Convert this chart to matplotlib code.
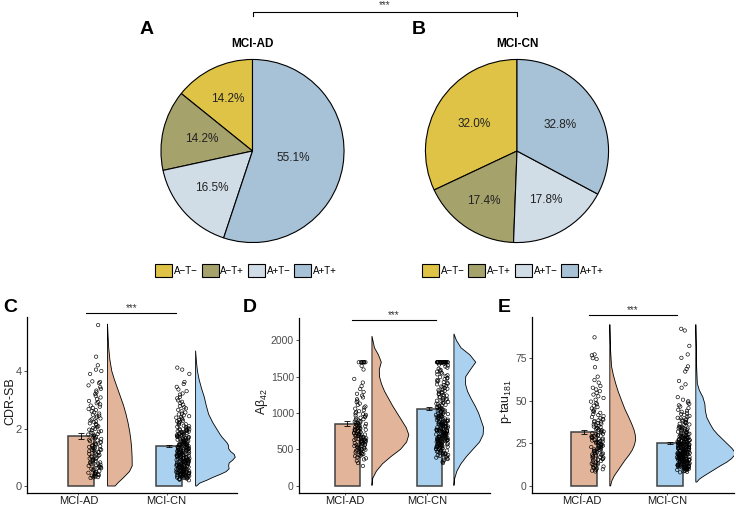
import numpy as np
import matplotlib
matplotlib.use("Agg")
import matplotlib.pyplot as plt
from matplotlib.patches import Polygon
from matplotlib.lines import Line2D

plt.rcParams['font.family'] = ['Liberation Sans', 'DejaVu Sans']
plt.rcParams['mathtext.fontset'] = 'custom'
plt.rcParams['mathtext.rm'] = 'Liberation Sans'
plt.rcParams['mathtext.it'] = 'Liberation Sans:italic'

# ---------------- data ----------------
groups = ["MCI-AD", "MCI-CN"]
at_labels = ["A\u2212T\u2212", "A\u2212T+", "A+T\u2212", "A+T+"]
pie_ad = [14.2, 14.2, 16.5, 55.1]
pie_cn = [32.0, 17.4, 17.8, 32.8]

# bar means and standard errors
cdr_mean = [1.74, 1.39]
cdr_se = [0.10, 0.03]
abeta_mean = [855, 1058]
abeta_se = [32, 18]
ptau_mean = [31.6, 25.2]
ptau_se = [1.3, 0.6]

# individual subjects
cdr_ad = [0.28, 0.31, 0.33, 0.35, 0.36, 0.38, 0.4, 0.41, 0.43, 0.44, 0.46, 0.47, 0.49, 0.3,
          0.52, 0.55, 0.57, 0.6, 0.62, 0.64, 0.66, 0.68, 0.7, 0.72, 0.74, 0.76, 0.78, 0.8,
          0.82, 0.84, 0.86, 0.88, 0.9, 0.92, 0.94, 0.96, 0.98, 0.65,
          1.01, 1.03, 1.05, 1.08, 1.1, 1.12, 1.14, 1.17, 1.19, 1.21, 1.23, 1.26, 1.28, 1.3,
          1.32, 1.34, 1.36, 1.38, 1.4, 1.42, 1.44, 1.46, 1.48, 1.25,
          1.51, 1.54, 1.56, 1.59, 1.61, 1.64, 1.66, 1.69, 1.71, 1.74, 1.76, 1.79, 1.81, 1.84,
          1.86, 1.89, 1.91, 1.94, 1.96, 1.99,
          2.02, 2.05, 2.08, 2.12, 2.15, 2.18, 2.22, 2.25, 2.28, 2.32, 2.35, 2.38, 2.42, 2.45, 2.48,
          2.52, 2.56, 2.6, 2.64, 2.68, 2.72, 2.76, 2.8, 2.84, 2.88, 2.92, 2.96,
          3.02, 3.08, 3.14, 3.2, 3.26, 3.32, 3.38, 3.44,
          3.5, 3.58, 3.62, 3.64, 3.9, 4.0, 4.05, 4.2, 4.5, 5.6]
cdr_cn = [0.2, 0.22, 0.24, 0.26, 0.27, 0.28, 0.29, 0.3, 0.31, 0.32, 0.33, 0.34, 0.35, 0.35,
          0.36, 0.37, 0.38, 0.38, 0.39, 0.4, 0.4, 0.41, 0.42, 0.42, 0.43, 0.44, 0.44, 0.45,
          0.45, 0.46, 0.46, 0.47, 0.47, 0.48, 0.48, 0.49, 0.49, 0.5, 0.5, 0.25,
          0.51, 0.52, 0.53, 0.54, 0.55, 0.56, 0.57, 0.58, 0.59, 0.6, 0.61, 0.62, 0.63, 0.64,
          0.65, 0.66, 0.67, 0.68, 0.69, 0.7, 0.71, 0.72, 0.73, 0.74, 0.75, 0.76, 0.77, 0.78,
          0.79, 0.8, 0.81, 0.82, 0.83, 0.84, 0.85, 0.86, 0.87, 0.88, 0.89, 0.9, 0.91, 0.92,
          0.93, 0.94, 0.95, 0.96, 0.97, 0.98, 0.99, 1.0, 0.55, 0.62, 0.68, 0.74, 0.8, 0.86,
          0.92, 0.97, 0.58, 0.71, 0.84, 0.95,
          1.01, 1.02, 1.03, 1.04, 1.05, 1.06, 1.07, 1.08, 1.09, 1.1, 1.11, 1.12, 1.13, 1.14,
          1.15, 1.16, 1.17, 1.18, 1.19, 1.2, 1.21, 1.22, 1.23, 1.24, 1.25, 1.26, 1.27, 1.28,
          1.29, 1.3, 1.31, 1.32, 1.33, 1.34, 1.35, 1.36, 1.37, 1.38, 1.39, 1.4, 1.41, 1.42,
          1.43, 1.44, 1.45, 1.46, 1.47, 1.48, 1.49, 1.5, 1.015, 1.065, 1.115, 1.165, 1.215,
          1.265, 1.315, 1.365, 1.415, 1.465,
          1.51, 1.53, 1.55, 1.57, 1.59, 1.61, 1.63, 1.65, 1.67, 1.69, 1.71, 1.73, 1.75, 1.77,
          1.79, 1.81, 1.83, 1.85, 1.87, 1.89, 1.91, 1.93, 1.95, 1.97, 1.99, 1.52, 1.55, 1.58,
          1.62, 1.65, 1.68, 1.72, 1.75, 1.78, 1.82, 1.85, 1.88, 1.92, 1.95, 1.98, 1.6, 1.7,
          2.02, 2.04, 2.06, 2.08, 2.1, 2.13, 2.15, 2.17, 2.2, 2.22, 2.25, 2.27, 2.3, 2.32,
          2.35, 2.38, 2.4, 2.43, 2.46, 2.49,
          2.52, 2.56, 2.6, 2.65, 2.7, 2.74, 2.78, 2.83, 2.88, 2.93, 2.98,
          3.05, 3.1, 3.18, 3.22, 3.3, 3.36, 3.45, 3.55, 3.62, 3.9, 4.05, 4.12]

abeta_ad = [270, 310, 340, 360, 375, 390,
            405, 412, 420, 428, 435, 442, 450, 458, 465, 472, 480, 487, 493, 498,
            503, 509, 515, 521, 527, 533, 539, 545, 551, 557, 563, 569, 575, 581, 587, 592, 596, 599,
            602, 607, 612, 617, 622, 627, 632, 637, 642, 647, 652, 657, 662, 667, 672, 677, 682,
            687, 692, 697,
            703, 709, 715, 721, 727, 733, 739, 745, 751, 757, 763, 769, 775, 781, 787, 793, 798,
            805, 812, 820, 828, 835, 842, 850, 858, 865, 872, 880, 888, 895,
            905, 915, 925, 935, 945, 955, 965, 975, 985, 995,
            1010, 1025, 1040, 1060, 1075, 1090, 1110, 1130, 1150, 1170, 1190,
            1215, 1240, 1265, 1290, 1330, 1370, 1420, 1470, 1600, 1650,
            1700, 1700, 1700, 1700, 1700, 1700, 1700, 1700]
abeta_cn = [310, 325, 340, 355, 365, 375, 385, 395,
            403, 409, 415, 421, 427, 433, 439, 445, 451, 457, 463, 469, 475, 481, 488, 495,
            502, 506, 510, 514, 518, 522, 526, 530, 534, 538, 542, 546, 550, 554, 558, 562,
            566, 570, 574, 578, 582, 586, 590, 595,
            602, 605, 608, 611, 614, 617, 620, 623, 626, 629, 632, 635, 638, 641, 644, 647,
            650, 653, 656, 659, 662, 665, 668, 671, 674, 677, 680, 685, 690, 695,
            702, 705, 708, 711, 714, 717, 720, 723, 726, 729, 732, 735, 738, 741, 744, 747,
            750, 753, 756, 759, 762, 765, 768, 771, 774, 777, 780, 785, 790, 795,
            802, 806, 810, 814, 818, 822, 826, 830, 834, 838, 842, 846, 850, 854, 858, 862,
            866, 870, 874, 878, 882, 886, 890, 895,
            903, 908, 914, 919, 925, 930, 936, 941, 947, 952, 958, 963, 969, 974, 980, 985, 991, 996,
            1005, 1012, 1019, 1026, 1033, 1040, 1047, 1054, 1061, 1068, 1075, 1082, 1089, 1096,
            1105, 1113, 1121, 1129, 1137, 1145, 1153, 1161, 1169, 1177, 1185, 1193,
            1205, 1214, 1223, 1232, 1241, 1250, 1259, 1268, 1277, 1286, 1295,
            1305, 1315, 1325, 1335, 1345, 1355, 1365, 1375, 1385, 1395,
            1405, 1415, 1425, 1435, 1445, 1455, 1465, 1475, 1485, 1495,
            1508, 1520, 1533, 1545, 1558, 1570, 1583, 1595,
            1610, 1625, 1640, 1655, 1668, 1680, 1692] + [1700] * 25

ptau_ad = [8.5, 9, 9.4, 9.8,
           10.2, 10.6, 11, 11.4, 11.8, 12.2, 12.6, 13, 13.4, 13.8, 14.2, 14.6,
           15.1, 15.4, 15.7, 16, 16.3, 16.6, 16.9, 17.2, 17.5, 17.8, 18.1, 18.4, 18.7, 19, 19.3, 19.7,
           20.1, 20.4, 20.6, 20.9, 21.2, 21.4, 21.7, 22, 22.2, 22.5, 22.8, 23, 23.3, 23.6, 23.8,
           24.1, 24.4, 24.6, 24.9,
           25.1, 25.4, 25.7, 26, 26.3, 26.6, 26.9, 27.2, 27.5, 27.8, 28.1, 28.4, 28.7, 29, 29.3,
           29.6, 29.8, 25.9,
           30.2, 30.5, 30.9, 31.2, 31.6, 31.9, 32.3, 32.6, 33, 33.3, 33.7, 34, 34.4, 34.8,
           35.2, 35.6, 36, 36.4, 36.8, 37.2, 37.6, 38, 38.4, 38.8, 39.2, 39.6,
           40.3, 40.9, 41.5, 42.1, 42.8, 43.4, 44, 44.6,
           45.4, 46.2, 47, 47.8, 48.6, 49.4, 50.5, 51.5, 52.5, 53.5, 54.5,
           55.5, 56.5, 57.5, 58.5, 60.5, 62, 64, 69.5, 74.3, 74.8, 76.5, 77, 87]
ptau_cn = [8, 8.3, 8.6, 8.9, 9.2, 9.4, 9.7, 9.9,
           10.1, 10.2, 10.3, 10.4, 10.6, 10.7, 10.8, 10.9, 11.0, 11.1, 11.2, 11.3, 11.4,
           11.6, 11.7, 11.8, 11.9, 12.0, 12.1, 12.2, 12.3, 12.4, 12.6, 12.7, 12.8, 12.9, 13.0,
           13.1, 13.2, 13.3, 13.4, 13.6, 13.7, 13.8, 13.9, 14.0, 14.1, 14.2, 14.3, 14.4, 14.5,
           14.6, 14.7, 14.8, 14.9,
           15.0, 15.1, 15.2, 15.3, 15.4, 15.5, 15.6, 15.7, 15.8, 15.9, 16.0, 16.1, 16.2, 16.3,
           16.4, 16.5, 16.6, 16.7, 16.8, 16.9, 17.0, 17.1, 17.2, 17.3, 17.4, 17.5, 17.6, 17.7,
           17.8, 17.9, 18.0, 18.1, 18.2, 18.3, 18.4, 18.5, 18.6, 18.7, 18.8, 18.9, 19.0, 19.1,
           19.2, 19.3, 19.4, 19.5, 19.6, 19.7, 19.8, 19.9, 15.55, 16.55, 17.55, 18.55,
           20.1, 20.2, 20.3, 20.4, 20.6, 20.7, 20.8, 20.9, 21.0, 21.1, 21.2, 21.3, 21.4,
           21.6, 21.7, 21.8, 21.9, 22.0, 22.1, 22.2, 22.3, 22.4, 22.6, 22.7, 22.8, 22.9, 23.0,
           23.1, 23.2, 23.3, 23.4, 23.6, 23.7, 23.8, 23.9, 24.0, 24.1, 24.2, 24.3, 24.4, 24.5,
           24.6, 24.7, 24.8, 24.9,
           25.1, 25.3, 25.5, 25.7, 25.9, 26.1, 26.3, 26.5, 26.7, 26.9, 27.1, 27.3, 27.5, 27.7,
           27.9, 28.1, 28.3, 28.5, 28.7, 28.9, 29.1, 29.3, 29.5, 29.7, 29.9, 25.2, 25.6, 26,
           26.4, 26.8, 27.2, 27.6, 28, 28.4, 28.8,
           30.1, 30.3, 30.6, 30.8, 31.1, 31.3, 31.6, 31.8, 32.1, 32.3, 32.6, 32.8, 33.1, 33.3,
           33.6, 33.8, 34.1, 34.3, 34.6, 34.8,
           35.2, 35.6, 36, 36.4, 36.8, 37.2, 37.6, 38, 38.4, 38.8, 39.2, 39.6, 39.9,
           40.4, 41, 41.6, 42.2, 42.8, 43.4, 44, 44.6, 45.5, 46.5, 47.2, 48, 48.8, 49.6,
           50.5, 52, 57.5, 59.5, 61.5, 67, 68.5, 70, 75, 77, 82, 91, 92]

# half-violin outlines: value levels and relative density
cdr_ad_lv = [0, 0.1, 0.3, 0.5, 0.7, 1.0, 1.3, 1.6, 1.9, 2.2, 2.5, 2.8, 3.1, 3.4, 3.7, 4.0,
             4.4, 4.8, 5.2, 5.64]
cdr_ad_dn = [7.5, 10, 16, 21.5, 24.3, 24.2, 23.8, 23, 21.8, 20.2, 18.2, 15.8, 12.8, 9.8, 6.8,
             4.2, 2.3, 1.2, 0.6, 0]
cdr_cn_lv = [0, 0.1, 0.2, 0.3, 0.4, 0.5, 0.6, 0.7, 0.8, 0.9, 1.0, 1.1, 1.2, 1.3, 1.4, 1.5,
             1.6, 1.7, 1.8, 2.0, 2.2, 2.5, 2.8, 3.1, 3.4, 3.7, 4.0, 4.3, 4.71]
cdr_cn_dn = [1, 4, 11, 17, 24, 30, 33, 32.5, 33, 36.5, 39, 38, 34.5, 32.5, 32.5, 31, 28.5,
             26, 24, 20.5, 17, 12.8, 10.5, 8.5, 5.8, 3.5, 1.8, 0.9, 0]
abeta_ad_lv = [0, 100, 200, 300, 400, 500, 600, 700, 800, 900, 1000, 1100, 1200, 1300,
               1400, 1500, 1600, 1700, 1800, 1900, 2060]
abeta_ad_dn = [0, 0.8, 4.5, 10.5, 19, 28.5, 34.5, 36.7, 34, 29.5, 25, 20.5, 16.5, 12.5,
               9.5, 7.5, 7.3, 9.3, 6.5, 2.5, 0]
abeta_cn_lv = [0, 100, 200, 300, 400, 500, 600, 700, 800, 900, 1000, 1100, 1200, 1300,
               1400, 1500, 1600, 1700, 1800, 1900, 2000, 2092]
abeta_cn_dn = [0, 0.8, 3, 7, 12.5, 19, 25.5, 29, 29.5, 27, 24.5, 21, 17, 13.5, 11.5, 11.7,
               16.5, 21.7, 16, 7, 2.5, 0]
ptau_ad_lv = [0, 3, 6, 9, 12, 15, 18, 21, 24, 27, 30, 33, 36, 40, 45, 50, 55, 60, 65, 70,
              80, 94.5]
ptau_ad_dn = [0.7, 2, 4.5, 8, 11.5, 15, 19, 22.3, 24.5, 25.7, 25.3, 24, 22, 19, 15, 11.7,
              8.5, 5.8, 3.5, 1.7, 0.7, 0]
ptau_cn_lv = [2.3, 4, 6, 8, 10, 12, 14, 16, 18, 20, 22, 24, 26, 28, 30, 33, 36, 40, 44, 48,
              52, 56, 60, 70, 80, 94.5]
ptau_cn_dn = [1, 3.5, 8.5, 14, 19.5, 25, 31, 35.5, 38.5, 38.5, 36, 32.5, 29, 25.5, 22, 17.5,
              14.5, 11, 9.5, 9, 7, 3.5, 1.5, 0.8, 0.6, 0]

# ---------------- style ----------------
pie_colors = ['#DEC346', '#A5A26C', '#D0DCE6', '#A7C1D6']
grp_colors = ['#E2B49A', '#AAD2F0']
W, H = 736, 507

fig = plt.figure(figsize=(W / 100, H / 100), dpi=100)
fig.patch.set_facecolor('white')


def px_axes(left, top, right, bottom):
    return fig.add_axes([left / W, 1 - bottom / H, (right - left) / W, (bottom - top) / H])


def fig_text(x, y, s, **kw):
    fig.text(x / W, 1 - y / H, s, **kw)


# ---------------- pies ----------------
pie_cy, pie_r = 151, 92
pies = [(252.5, pie_ad, "MCI-AD", "A", 147, [0.63, 0.57, 0.60, 0.45], 0.465),
        (517, pie_cn, "MCI-CN", "B", 419, [0.56, 0.65, 0.62, 0.55], 0.478)]
for cx, vals, title, letter, lx, lab_r, leg_x in pies:
    ax = px_axes(cx - pie_r, pie_cy - pie_r, cx + pie_r, pie_cy + pie_r)
    wedges, _ = ax.pie(vals, colors=pie_colors, startangle=90, counterclock=True,
                       wedgeprops=dict(edgecolor='black', linewidth=0.8))
    ax.set_xlim(-1.005, 1.005)
    ax.set_ylim(-1.005, 1.005)
    for w, v, r in zip(wedges, vals, lab_r):
        a = np.deg2rad((w.theta1 + w.theta2) / 2)
        ax.text(r * np.cos(a), r * np.sin(a), f"{v:.1f}%", ha='center', va='center',
                fontsize=8.5, color='#222222')
    ax.legend(wedges, at_labels, loc='center', bbox_to_anchor=(leg_x, -0.15), ncol=4,
              frameon=False, fontsize=7, handlelength=1.75, handleheight=1.75,
              handletextpad=0.2, columnspacing=0.35, borderaxespad=0)
    fig_text(cx, 44, title, fontsize=8.5, fontweight='bold', ha='center', va='center')
    fig_text(lx, 30, letter, fontsize=14, fontweight='bold', ha='center', va='center')

# bracket between the two pies
bx0, bx1 = 252.5, 517
fig.add_artist(Line2D([bx0 / W, bx0 / W, bx1 / W, bx1 / W],
                      [1 - 16 / H, 1 - 12 / H, 1 - 12 / H, 1 - 16 / H],
                      color='black', lw=0.8))
fig_text((bx0 + bx1) / 2, 10, "***", fontsize=7, ha='center', va='bottom', color='#333333')

# ---------------- raincloud panels ----------------
panels = [
    dict(box=(27, 317, 237, 493), ylim=(-0.243, 5.88), yticks=[0, 2, 4], xlim=(0.386, 2.77),
         ylabel="CDR-SB", ylab_x=-0.081, ytick_fs=8, letter="C", lx=10,
         means=cdr_mean, se=cdr_se, pts=[cdr_ad, cdr_cn],
         vio=[(cdr_ad_lv, cdr_ad_dn), (cdr_cn_lv, cdr_cn_dn)], sig=6.02),
    dict(box=(299, 318, 490, 493), ylim=(-103, 2310), yticks=[0, 500, 1000, 1500, 2000],
         xlim=(0.41, 2.74), ylabel="A\u03b2$_{42}$", ylab_x=-0.195, ytick_fs=7.5, letter="D",
         lx=250, means=abeta_mean, se=abeta_se, pts=[abeta_ad, abeta_cn],
         vio=[(abeta_ad_lv, abeta_ad_dn), (abeta_cn_lv, abeta_cn_dn)], sig=2283),
    dict(box=(532, 317, 734, 493), ylim=(-4.1, 98.9), yticks=[0, 25, 50, 75],
         xlim=(0.395, 2.744), ylabel="p-tau$_{181}$", ylab_x=-0.13, ytick_fs=7.5,
         letter="E", lx=504, means=ptau_mean, se=ptau_se, pts=[ptau_ad, ptau_cn],
         vio=[(ptau_ad_lv, ptau_ad_dn), (ptau_cn_lv, ptau_cn_dn)], sig=100.1),
]

pos = np.array([1, 2])
bar_w = 0.3
pt_off, pt_spread = 0.155, 0.075
vio_off, vio_max = 0.30, 0.45

for k, p in enumerate(panels):
    ax = px_axes(*p['box'])
    ax.set_xlim(*p['xlim'])
    ax.set_ylim(*p['ylim'])
    for s in ['top', 'right']:
        ax.spines[s].set_visible(False)
    for s in ['left', 'bottom']:
        ax.spines[s].set_linewidth(0.9)
    ax.set_yticks(p['yticks'])
    ax.set_xticks(pos - 0.03)
    ax.set_xticklabels(groups)
    ax.tick_params(axis='y', labelsize=p['ytick_fs'], labelcolor='#4d4d4d', length=2.5,
                   width=0.6, color='#333333', pad=1.2)
    ax.tick_params(axis='x', labelsize=8, labelcolor='#1a1a1a', length=1.5, width=0.6,
                   color='#333333', pad=0.5)
    ax.set_ylabel(p['ylabel'], fontsize=9, color='#1a1a1a', va='center')
    ax.yaxis.set_label_coords(p['ylab_x'], 0.52)

    ax.bar(pos, p['means'], width=bar_w, color=grp_colors, edgecolor='#404040',
           linewidth=1.1, zorder=2)
    ax.errorbar(pos, p['means'], yerr=p['se'], fmt='none', ecolor='black',
                elinewidth=0.6, capsize=2, capthick=0.6, zorder=3)

    dmax = max(max(d) for _, d in p['vio'])
    for i, (lv, dn) in enumerate(p['vio']):
        x0 = pos[i] + vio_off
        w = np.array(dn) / dmax * vio_max
        verts = [(x0, lv[0])] + [(x0 + wi, yi) for wi, yi in zip(w, lv)] + [(x0, lv[-1])]
        ax.add_patch(Polygon(verts, closed=True, facecolor=grp_colors[i],
                             edgecolor='black', linewidth=0.6, zorder=2))

    for i, vals in enumerate(p['pts']):
        idx = np.arange(len(vals)) + 37 * (2 * k + i)
        # deterministic hash jitter for horizontal spread only
        jit = (np.sin(idx * 12.9898 + 78.233) * 43758.5453) % 1 * 2 - 1
        ax.scatter(pos[i] + pt_off + pt_spread * jit, vals, s=6, facecolors='none',
                   edgecolors='black', linewidths=0.45, zorder=4)

    ax.plot([1.06, 2.08], [p['sig'], p['sig']], color='black', lw=0.8, clip_on=False)
    ax.text(1.57, p['sig'], "***", ha='center', va='bottom', fontsize=7,
            color='#333333', clip_on=False)
    fig_text(p['lx'], 307, p['letter'], fontsize=14, fontweight='bold',
             ha='center', va='center')

fig.savefig("out.png", dpi=100)
